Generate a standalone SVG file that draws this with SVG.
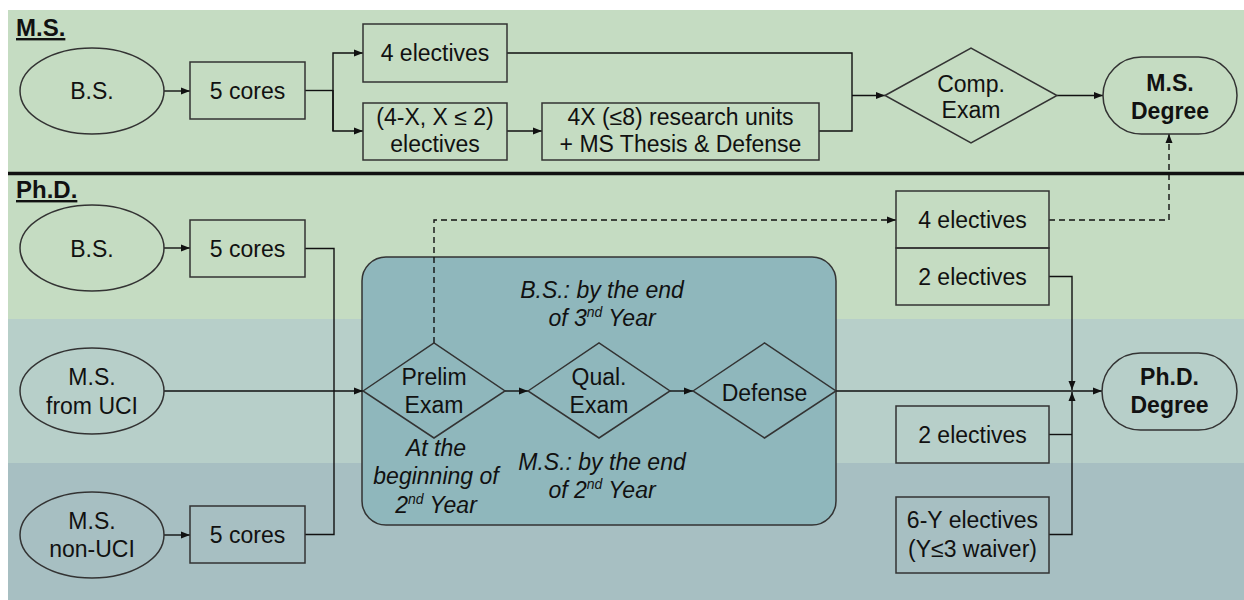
<svg xmlns="http://www.w3.org/2000/svg" width="1244" height="600" viewBox="0 0 1244 600">
<style>
text{font-family:"Liberation Sans",Arial,sans-serif;font-size:23px;fill:#111;text-anchor:middle}
.b{font-weight:bold}
.i{font-style:italic}
.hd{font-weight:bold;font-size:24px;text-anchor:start;text-decoration:underline}
.box{fill:none;stroke:#333;stroke-width:1.5}
.c{fill:none;stroke:#111;stroke-width:1.4}
.d{fill:none;stroke:#111;stroke-width:1.4;stroke-dasharray:6,4}
.sup{font-size:14px}
</style>
<defs>
<marker id="ah" markerWidth="9" markerHeight="8" refX="9" refY="4" orient="auto" markerUnits="userSpaceOnUse">
<path d="M0,0.5 L9,4 L0,7.5 z" fill="#111"/>
</marker>
</defs>
<g id="background">
<rect x="8" y="10" width="1236" height="165" fill="#C5DCC2"/>
<rect x="8" y="175" width="1236" height="144" fill="#C5DCC2"/>
<rect x="8" y="319" width="1236" height="144" fill="#B7CFC9"/>
<rect x="8" y="463" width="1236" height="137" fill="#A7BFC2"/>
<line x1="8" y1="173.5" x2="1244" y2="173.5" stroke="#111" stroke-width="3.5"/>
<text class="hd" x="16" y="36">M.S.</text>
<text class="hd" x="16" y="198">Ph.D.</text>
</g>
<g id="phd-exam-box">
<rect x="362" y="257" width="474" height="268" rx="24" fill="#8FB7BC" stroke="#333" stroke-width="1.5"/>
<text class="i" x="602" y="298">B.S.: by the end</text>
<text class="i" x="602" y="326">of 3<tspan class="sup" dy="-9">nd</tspan><tspan dy="9"> Year</tspan></text>
<text class="i" x="602" y="470">M.S.: by the end</text>
<text class="i" x="602" y="498">of 2<tspan class="sup" dy="-9">nd</tspan><tspan dy="9"> Year</tspan></text>
<text class="i" x="436" y="456">At the</text>
<text class="i" x="436" y="484">beginning of</text>
<text class="i" x="436" y="513">2<tspan class="sup" dy="-9">nd</tspan><tspan dy="9"> Year</tspan></text>
</g>
<g id="connectors">
<line class="c" x1="164" y1="91" x2="190" y2="91" marker-end="url(#ah)"/>
<polyline class="c" points="305,90.5 333,90.5"/>
<polyline class="c" points="333,131 333,53 363,53" marker-end="url(#ah)"/>
<polyline class="c" points="333,90 333,131 363,131" marker-end="url(#ah)"/>
<line class="c" x1="507" y1="131" x2="542" y2="131" marker-end="url(#ah)"/>
<polyline class="c" points="507,53 852,53 852,131 819,131"/>
<line class="c" x1="852" y1="95.5" x2="885" y2="95.5" marker-end="url(#ah)"/>
<line class="c" x1="1057" y1="95.5" x2="1103" y2="95.5" marker-end="url(#ah)"/>
<polyline class="d" points="1049,220 1169,220 1169,134" marker-end="url(#ah)"/>
<polyline class="d" points="434,343 434,220 896,220" marker-end="url(#ah)"/>
<line class="c" x1="164" y1="248" x2="190" y2="248" marker-end="url(#ah)"/>
<line class="c" x1="164" y1="535" x2="190" y2="535" marker-end="url(#ah)"/>
<polyline class="c" points="305,248.5 334,248.5 334,534.5 305,534.5"/>
<line class="c" x1="164" y1="391" x2="363" y2="391" marker-end="url(#ah)"/>
<line class="c" x1="505" y1="391" x2="528" y2="391" marker-end="url(#ah)"/>
<line class="c" x1="670" y1="391" x2="693" y2="391" marker-end="url(#ah)"/>
<line class="c" x1="836" y1="391" x2="1102" y2="391" marker-end="url(#ah)"/>
<polyline class="c" points="1049,276.5 1072,276.5 1072,390" marker-end="url(#ah)"/>
<polyline class="c" points="1049,534.5 1072,534.5 1072,392" marker-end="url(#ah)"/>
<polyline class="c" points="1049,434.5 1072,434.5"/>
</g>
<g id="ms-bs">
<ellipse class="box" cx="92" cy="91" rx="72" ry="43"/>
<text x="92" y="99">B.S.</text>
</g>
<g id="ms-cores">
<rect class="box" x="190" y="62" width="115" height="57"/>
<text x="247.5" y="99">5 cores</text>
</g>
<g id="ms-4electives">
<rect class="box" x="363" y="24" width="144" height="58"/>
<text x="435" y="61">4 electives</text>
</g>
<g id="ms-4x-electives">
<rect class="box" x="363" y="103" width="144" height="57"/>
<text x="435" y="125">(4-X, X ≤ 2)</text>
<text x="435" y="152">electives</text>
</g>
<g id="ms-research">
<rect class="box" x="542" y="103" width="277" height="57"/>
<text x="680.5" y="125">4X (≤8) research units</text>
<text x="680.5" y="152">+ MS Thesis &amp; Defense</text>
</g>
<g id="ms-comp">
<polygon class="box" points="885,95.5 971,48 1057,95.5 971,143"/>
<text x="971" y="92">Comp.</text>
<text x="971" y="118">Exam</text>
</g>
<g id="ms-degree">
<rect class="box" x="1103" y="57" width="134" height="77" rx="38.5"/>
<text class="b" x="1170" y="91">M.S.</text>
<text class="b" x="1170" y="118.5">Degree</text>
</g>
<g id="phd-bs">
<ellipse class="box" cx="92" cy="248" rx="72" ry="43"/>
<text x="92" y="257">B.S.</text>
</g>
<g id="phd-bs-cores">
<rect class="box" x="190" y="220" width="115" height="57"/>
<text x="247.5" y="257">5 cores</text>
</g>
<g id="phd-ms-uci">
<ellipse class="box" cx="92" cy="391" rx="72" ry="43"/>
<text x="92" y="385">M.S.</text>
<text x="92" y="414">from UCI</text>
</g>
<g id="phd-ms-nonuci">
<ellipse class="box" cx="92" cy="535" rx="72" ry="43"/>
<text x="92" y="529">M.S.</text>
<text x="92" y="557">non-UCI</text>
</g>
<g id="phd-nonuci-cores">
<rect class="box" x="190" y="506" width="115" height="57"/>
<text x="247.5" y="543">5 cores</text>
</g>
<g id="phd-prelim">
<polygon class="box" points="363,391 434,343 505,391 434,438"/>
<text x="434" y="385">Prelim</text>
<text x="434" y="413">Exam</text>
</g>
<g id="phd-qual">
<polygon class="box" points="528,391 599,343 670,391 599,438"/>
<text x="599" y="385">Qual.</text>
<text x="599" y="413">Exam</text>
</g>
<g id="phd-defense">
<polygon class="box" points="693,391 764.5,343 836,391 764.5,438"/>
<text x="764.5" y="401">Defense</text>
</g>
<g id="phd-4electives">
<rect class="box" x="896" y="191" width="153" height="57"/>
<text x="972.5" y="228">4 electives</text>
</g>
<g id="phd-2electives-a">
<rect class="box" x="896" y="248" width="153" height="57"/>
<text x="972.5" y="285">2 electives</text>
</g>
<g id="phd-2electives-b">
<rect class="box" x="896" y="406" width="153" height="57"/>
<text x="972.5" y="443">2 electives</text>
</g>
<g id="phd-6y-electives">
<rect class="box" x="896" y="497" width="153" height="76"/>
<text x="972.5" y="528">6-Y electives</text>
<text x="972.5" y="557">(Y≤3 waiver)</text>
</g>
<g id="phd-degree">
<rect class="box" x="1102" y="353" width="135" height="77" rx="38.5"/>
<text class="b" x="1169.5" y="385">Ph.D.</text>
<text class="b" x="1169.5" y="413">Degree</text>
</g>
</svg>
